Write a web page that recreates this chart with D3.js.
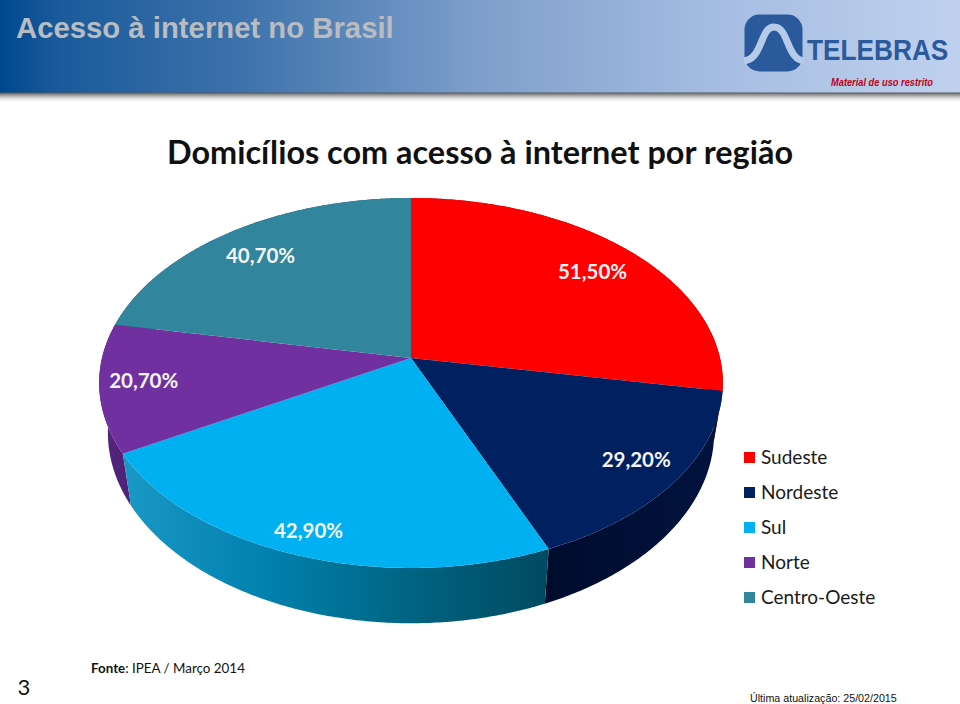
<!DOCTYPE html>
<html><head><meta charset="utf-8">
<script src="https://cdn.jsdelivr.net/npm/d3@7/dist/d3.min.js"></script>
<style>html,body{margin:0;padding:0;background:#fff}svg{display:block}</style>
</head><body><svg id="c" width="960" height="704"></svg>
<script>
const regions = ["Sudeste","Nordeste","Sul","Norte","Centro-Oeste"];
const values = [51.5,29.2,42.9,20.7,40.7];
const valueLabels = ["51,50%","29,20%","42,90%","20,70%","40,70%"];
const topColors = ["#ff0000","#002060","#00b0f0","#7030a0","#31859c"];

const svg = d3.select("#c");
const defs = svg.append("defs");
const lin = (id,x1,y1,x2,y2,stops,units)=>{
  const g = defs.append("linearGradient").attr("id",id)
    .attr("x1",x1).attr("y1",y1).attr("x2",x2).attr("y2",y2);
  if(units) g.attr("gradientUnits",units);
  stops.forEach(s=>g.append("stop").attr("offset",s[0]).attr("stop-color",s[1]).attr("stop-opacity",s[2]===undefined?1:s[2]));
};
lin("hdr",0,0,1,0,[[0,"#00488e"],[0.06,"#1a5a9b"],[0.25,"#3d72ab"],[0.5,"#7e9fcb"],[0.75,"#a6bde2"],[1,"#bfd1ee"]]);
lin("shadow",0,0,0,1,[[0,"#3a3a3a",0.95],[0.3,"#777",0.7],[1,"#fff",0]]);
lin("wallSul",123,0,549,0,[[0,"#1a98c6"],[0.35,"#0080ac"],[0.7,"#00627f"],[1,"#004a60"]],"userSpaceOnUse");
lin("wallNordeste",549,0,720,0,[[0,"#000c2e"],[1,"#00133f"]],"userSpaceOnUse");
lin("wallNorte",100,0,130,0,[[0,"#55247c"],[1,"#4d2377"]],"userSpaceOnUse");
lin("wallRed",700,0,724,0,[[0,"#990000"],[1,"#800000"]],"userSpaceOnUse");
lin("wallCO",100,0,400,0,[[0,"#1f5a6b"],[1,"#1f5a6b"]],"userSpaceOnUse");
const wallFills = ["url(#wallRed)","url(#wallNordeste)","url(#wallSul)","url(#wallNorte)","url(#wallCO)"];

// header band
svg.append("rect").attr("x",0).attr("y",92).attr("width",960).attr("height",11).attr("fill","url(#shadow)");
svg.append("rect").attr("x",0).attr("y",0).attr("width",960).attr("height",92.5).attr("fill","url(#hdr)");
svg.append("text").attr("x",16).attr("y",38).text("Acesso à internet no Brasil")
  .attr("font-family","Liberation Sans").attr("font-weight",700).attr("font-size",29.3).attr("fill","#b9bcc1");

// logo
const logo = svg.append("g");
logo.append("rect").attr("x",744.5).attr("y",14.5).attr("width",58).attr("height",57).attr("rx",15).attr("fill","#2a5a9c");
logo.append("path").attr("d","M744 61 C763 59 760 27 774 27 C789 27 786 59 804 61")
  .attr("fill","none").attr("stroke","#b5cbe9").attr("stroke-width",7);
logo.append("text").attr("transform","translate(807,60) scale(0.905,1)").text("TELEBRAS")
  .attr("font-family","Liberation Sans").attr("font-weight",700).attr("font-size",29).attr("fill","#2a5a9c");
logo.append("text").attr("x",831).attr("y",86).text("Material de uso restrito")
  .attr("font-family","Liberation Sans").attr("font-weight",700).attr("font-style","italic").attr("font-size",10.5).attr("fill","#c00018")
  .attr("textLength",102).attr("lengthAdjust","spacingAndGlyphs");

// title
svg.append("text").attr("x",480).attr("y",164).attr("text-anchor","middle").text("Domicílios com acesso à internet por região")
  .attr("font-family","Lato").attr("font-weight",700).attr("font-size",31.5).attr("fill","#111")
  .attr("textLength",626).attr("lengthAdjust","spacingAndGlyphs");

// perspective projection of the disc
const cx=411, cy=358, Rx=309, Ry=181.6, persp=0.135;
const proj=(a,r=1)=>{
  const x=r*Math.sin(a), y=-r*Math.cos(a), d=1-persp*y;
  return [cx+Rx*x/d, cy+Ry*y/d];
};
const projLow=a=>{
  const p=proj(a);
  return [cx+(p[0]-cx)*0.972, cy+(p[1]-cy)*1.03+49];
};
const arcs=d3.pie().sort(null).startAngle(0).endAngle(2*Math.PI)(values);
const color=d3.scaleOrdinal().domain(regions).range(topColors);
const line=d3.line();
const samples=(s,e)=>{const n=Math.ceil((e-s)/0.01);return d3.range(n+1).map(i=>s+(e-s)*i/n);};

// side walls, back to front
const wallOrder=[4,0,3,1,2];
svg.append("g").selectAll("path").data(wallOrder).join("path")
  .attr("d",i=>{
    const as=samples(arcs[i].startAngle,arcs[i].endAngle);
    return line(as.map(a=>proj(a)).concat(as.slice().reverse().map(projLow)))+"Z";
  }).attr("fill",i=>wallFills[i]);

// top faces
svg.append("g").selectAll("path").data(arcs).join("path")
  .attr("d",d=>line([[cx,cy]].concat(samples(d.startAngle,d.endAngle).map(a=>proj(a))))+"Z")
  .attr("fill",(d,i)=>color(regions[i]));

// value labels
const labelReach=[0.82,0.865,0.91,0.86,0.83];
const labelDy=[10,3,3,4,11.5];
svg.append("g").selectAll("text").data(arcs).join("text")
  .attr("x",(d,i)=>proj((d.startAngle+d.endAngle)/2,labelReach[i])[0])
  .attr("y",(d,i)=>proj((d.startAngle+d.endAngle)/2,labelReach[i])[1]+labelDy[i])
  .attr("text-anchor","middle").text((d,i)=>valueLabels[i])
  .attr("font-family","Lato").attr("font-weight",700).attr("font-size",20.5).attr("fill","#f4f4f4");

// legend
const ly=d3.scalePoint().domain(regions).range([457,597]);
const leg=svg.append("g").selectAll("g").data(regions).join("g").attr("transform",d=>`translate(744,${ly(d)})`);
leg.append("rect").attr("x",0).attr("y",-5).attr("width",11).attr("height",11).attr("fill",d=>color(d));
leg.append("text").attr("x",17).attr("y",6.5).text(d=>d)
  .attr("font-family","Lato").attr("font-size",19).attr("fill","#1a1a1a");

// footer
svg.append("text").attr("x",24).attr("y",695).attr("text-anchor","middle").text("3")
  .attr("font-family","Lato").attr("font-size",22).attr("fill","#111");
const src=svg.append("text").attr("x",91).attr("y",672.5).attr("font-family","Lato").attr("font-size",13.4).attr("fill","#111");
src.append("tspan").attr("font-weight",700).text("Fonte");
src.append("tspan").text(": IPEA / Março 2014");
svg.append("text").attr("x",750).attr("y",701.5).text("Última atualização: 25/02/2015")
  .attr("font-family","Liberation Sans").attr("font-size",10.7).attr("fill","#111");
</script></body></html>
